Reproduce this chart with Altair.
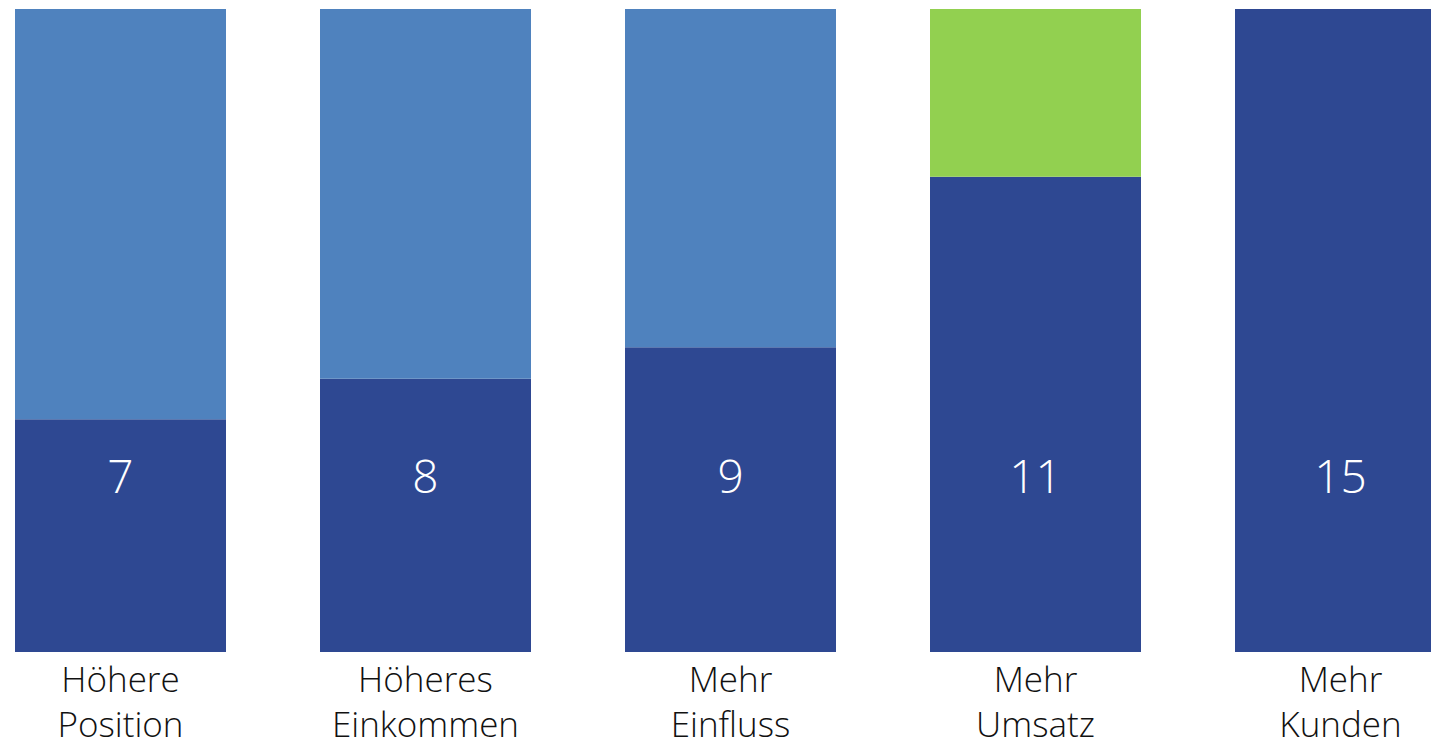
import altair as alt
import pandas as pd

categories = ["Höhere Position", "Höheres Einkommen", "Mehr Einfluss", "Mehr Umsatz", "Mehr Kunden"]
value_labels = [7, 8, 9, 11, 15]
base_share = [36.2, 42.5, 47.4, 73.9, 100.0]
top_share = [63.8, 57.5, 52.6, 26.1, 0.0]
top_kind = ["light", "light", "light", "green", "light"]

DARK = "#2E4892"
LIGHT = "#4F82BE"
GREEN = "#92D050"

rows = []
for c, b, t, k in zip(categories, base_share, top_share, top_kind):
    rows.append({"cat": c, "seg": "base", "order": 0, "val": b, "col": DARK})
    if t > 0:
        rows.append({"cat": c, "seg": "top", "order": 1, "val": t,
                     "col": GREEN if k == "green" else LIGHT})
bars_df = pd.DataFrame(rows)
labels_df = pd.DataFrame({"cat": categories, "lab": [str(v) for v in value_labels]})

W = 1423
H = 643
xscale = alt.Scale(domain=categories, range=[7, 1438], paddingInner=0.3082, paddingOuter=0)
yscale = alt.Scale(domain=[0, 100], nice=False)

xaxis = alt.Axis(title=None, domain=False, ticks=False, labelAngle=0,
                 labelExpr="split(datum.label, ' ')",
                 labelFont="Open Sans", labelFontWeight=300, labelFontSize=35,
                 labelLineHeight=45, labelColor="#111111", labelPadding=39,
                 labelBaseline="alphabetic", labelLimit=400)

bars = alt.Chart(bars_df).mark_bar(clip=True).encode(
    x=alt.X("cat:N", scale=xscale, axis=xaxis, sort=categories),
    y=alt.Y("val:Q", stack="zero", scale=yscale, axis=None),
    color=alt.Color("col:N", scale=None),
    order=alt.Order("order:Q"),
)

texts = alt.Chart(labels_df).mark_text(
    font="Open Sans", fontWeight=300, fontSize=46, color="white",
    baseline="alphabetic", align="center"
).encode(
    x=alt.X("cat:N", scale=xscale, axis=xaxis, sort=categories),
    y=alt.datum(24.7, scale=yscale),
    text="lab:N",
)

chart = alt.layer(bars, texts).properties(
    width=W, height=H,
    padding={"left": 0, "top": 1, "right": 0, "bottom": 95},
    autosize=alt.AutoSizeParams(type="none"),
).configure_view(stroke=None)

chart.save("out.html", embed_options={"renderer": "svg", "actions": False})
